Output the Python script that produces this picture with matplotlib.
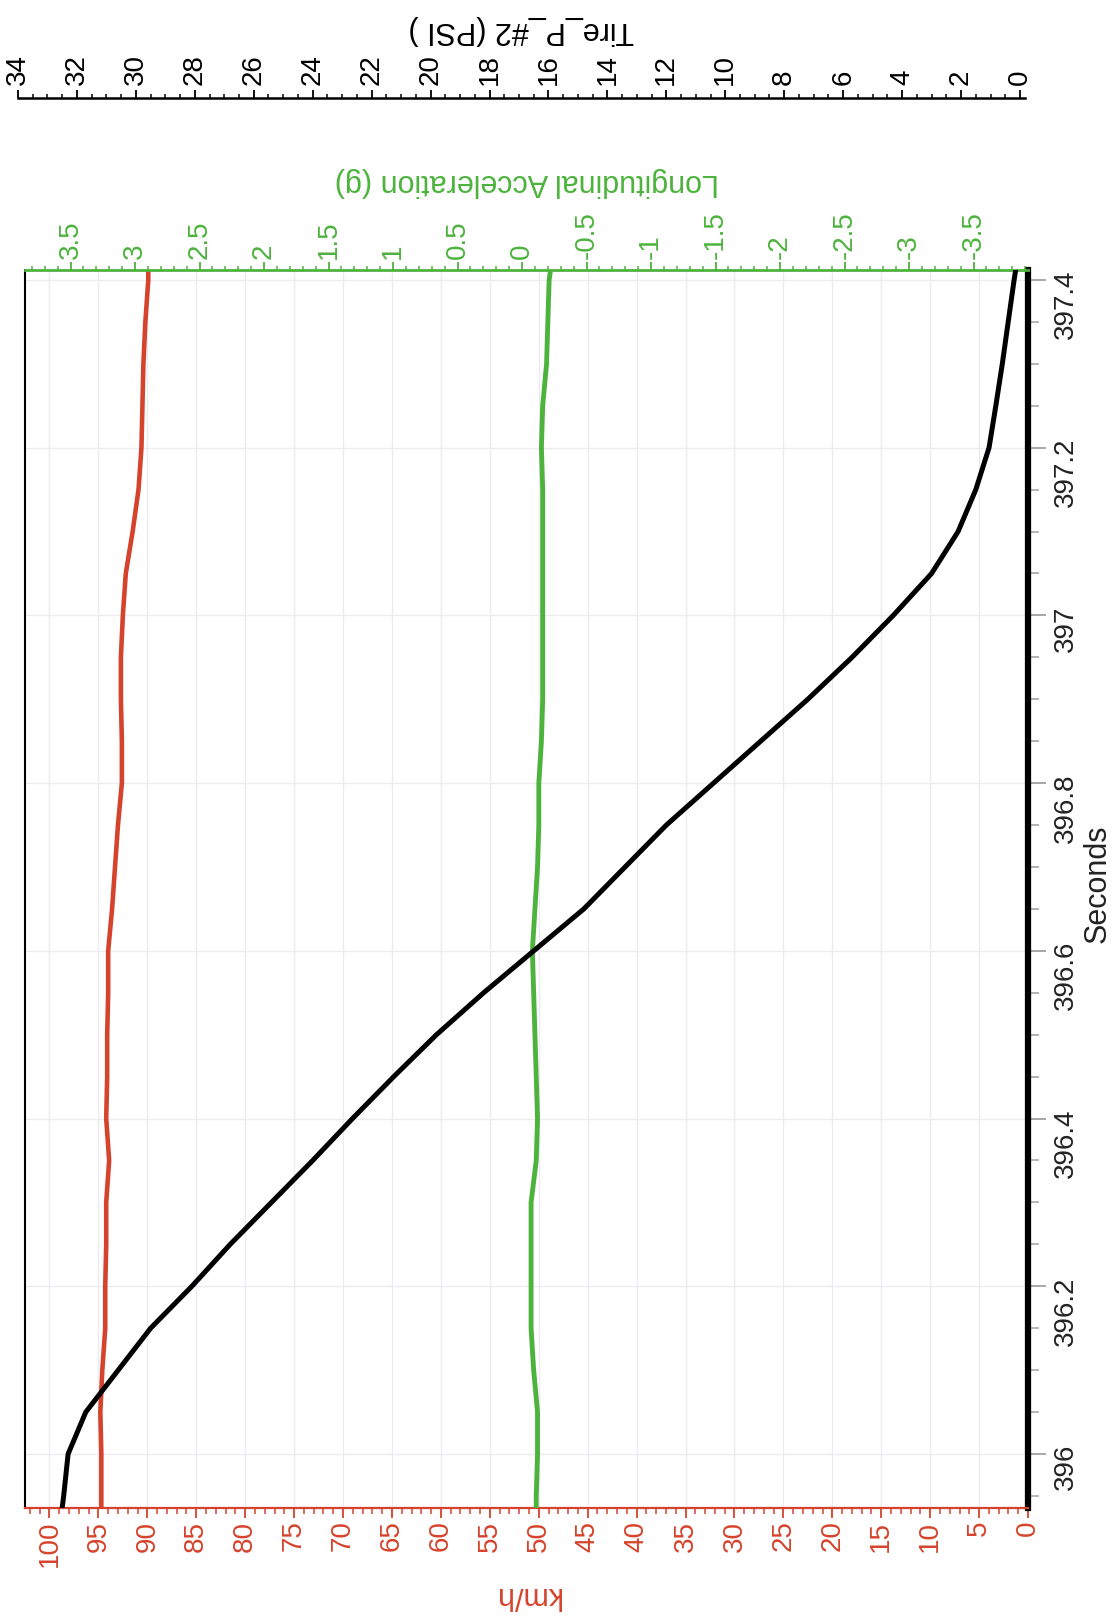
import matplotlib
matplotlib.use('Agg')
import matplotlib.pyplot as plt
from matplotlib.ticker import MultipleLocator

plt.rcParams['font.family'] = ['Liberation Sans', 'DejaVu Sans']
plt.rcParams['axes.unicode_minus'] = False

seconds = [395.936, 395.95, 396.00, 396.05, 396.10, 396.15, 396.20, 396.25,
           396.30, 396.35, 396.40, 396.45, 396.50, 396.55, 396.60, 396.65,
           396.70, 396.75, 396.80, 396.85, 396.90, 396.95, 397.00, 397.05,
           397.10, 397.15, 397.20, 397.25, 397.30, 397.35, 397.40, 397.411]
tire_psi = [32.5, 32.45, 32.3, 31.7, 30.6, 29.5, 28.1, 26.8,
            25.4, 24.0, 22.65, 21.25, 19.8, 18.2, 16.5, 14.8,
            13.4, 12.0, 10.4, 8.8, 7.2, 5.7, 4.3, 3.0,
            2.1, 1.5, 1.05, 0.82, 0.6, 0.4, 0.2, 0.15]
speed_kmh = [94.7, 94.7, 94.7, 94.8, 94.6, 94.3, 94.3, 94.2,
             94.2, 93.9, 94.2, 94.1, 94.1, 94.0, 94.0, 93.6,
             93.3, 93.0, 92.6, 92.6, 92.7, 92.7, 92.5, 92.2,
             91.5, 90.9, 90.6, 90.5, 90.4, 90.2, 89.9, 89.9]
accel_g = [-0.11, -0.11, -0.12, -0.12, -0.09, -0.07, -0.07, -0.07,
           -0.07, -0.11, -0.12, -0.11, -0.10, -0.09, -0.08, -0.10,
           -0.12, -0.13, -0.13, -0.15, -0.16, -0.16, -0.16, -0.16,
           -0.16, -0.16, -0.15, -0.16, -0.19, -0.20, -0.21, -0.22]

kmh_ticks = list(range(0, 101, 5))
accel_ticks = [3.5, 3, 2.5, 2, 1.5, 1, 0.5, 0, -0.5, -1, -1.5, -2, -2.5, -3, -3.5]
psi_ticks = list(range(0, 35, 2))
sec_ticks = [396, 396.2, 396.4, 396.6, 396.8, 397, 397.2, 397.4]
sec_labels = ['396', '396.2', '396.4', '396.6', '396.8', '397', '397.2', '397.4']

RED = '#d6432c'
GREEN = '#4db33d'
W, H = 1118, 1616
TICK_FS = 20
LABEL_FS = 22


def rect(x0, x1, y0, y1):
    # pixel box -> figure fractions
    return [x0 / W, 1 - y1 / H, (x1 - x0) / W, (y1 - y0) / H]


fig = plt.figure(figsize=(W / 100, H / 100), dpi=100)
ax = fig.add_axes(rect(25, 1028, 270, 1508))
ax2 = ax.twiny()
ax3 = fig.add_axes(rect(18, 1025, 270, 1508), sharey=ax)
ax3.patch.set_visible(False)

# speed (km/h) - bottom axis, seconds on the right
ax.plot(speed_kmh, seconds, color=RED, lw=3.3, zorder=3)
ax.set_xlim(102.5, 0)
ax.set_ylim(395.9356, 397.4119)
ax.set_axisbelow(True)
ax.grid(color='#ebebf1', lw=1)
ax.set_xticks(kmh_ticks)
ax.xaxis.set_minor_locator(MultipleLocator(1))
ax.tick_params(axis='x', which='both', colors=RED, labelsize=TICK_FS, labelrotation=90, pad=2)
ax.tick_params(axis='x', which='major', length=7, width=1.3)
ax.tick_params(axis='x', which='minor', length=4, width=1.1)
ax.yaxis.tick_right()
ax.yaxis.set_label_position('right')
ax.set_yticks(sec_ticks)
ax.set_yticklabels(sec_labels)
ax.yaxis.set_minor_locator(MultipleLocator(0.05))
ax.tick_params(axis='y', which='both', color='#a0a0a0', labelcolor='#222222',
               labelsize=TICK_FS, labelrotation=90, pad=5)
ax.tick_params(axis='y', which='major', length=13, width=1.3)
ax.tick_params(axis='y', which='minor', length=8, width=1.1)
ax.spines['left'].set_color('black')
ax.spines['left'].set_linewidth(1.5)
ax.spines['bottom'].set_color(RED)
ax.spines['bottom'].set_linewidth(1.6)
ax.spines['right'].set_color('black')
ax.spines['right'].set_linewidth(4.5)
ax.spines['top'].set_visible(False)
ax.set_xlabel('km/h', color=RED, fontsize=LABEL_FS, rotation=180)
ax.xaxis.set_label_coords(0.5, -0.0703)
ax.xaxis.label.set_va('center')
ax.set_ylabel('Seconds', fontsize=LABEL_FS, color='#222222', rotation=90)
ax.yaxis.set_label_coords(1.0695, 0.504)
ax.yaxis.label.set_va('center')

# longitudinal acceleration - green top axis
ax2.plot(accel_g, seconds, color=GREEN, lw=3.5, zorder=3)
ax2.set_xlim(3.853, -3.922)
ax2.set_xticks(accel_ticks)
ax2.set_xticklabels(['%g' % v for v in accel_ticks])
ax2.xaxis.set_minor_locator(MultipleLocator(0.1))
ax2.tick_params(axis='x', which='both', colors=GREEN, labelsize=TICK_FS, labelrotation=90, pad=2)
ax2.tick_params(axis='x', which='major', length=6, width=1.3)
ax2.tick_params(axis='x', which='minor', length=3, width=1.1)
for s in ['left', 'right', 'bottom']:
    ax2.spines[s].set_visible(False)
ax2.spines['top'].set_color(GREEN)
ax2.spines['top'].set_linewidth(2)
ax2.set_xlabel('Longitudinal Acceleration (g)', color=GREEN, fontsize=LABEL_FS, rotation=180)
ax2.xaxis.set_label_coords(0.5, 1.0711)
ax2.xaxis.label.set_va('center')

# tire pressure - black axis further up
ax3.plot(tire_psi, seconds, color='black', lw=3.6, zorder=4)
ax3.set_xlim(34, -0.17)
ax3.xaxis.tick_top()
ax3.xaxis.set_label_position('top')
ax3.yaxis.set_visible(False)
ax3.set_xticks(psi_ticks)
ax3.xaxis.set_minor_locator(MultipleLocator(0.5))
ax3.tick_params(axis='x', which='both', colors='black', labelsize=TICK_FS, labelrotation=90, pad=3)
ax3.tick_params(axis='x', which='major', length=6, width=1.3)
ax3.tick_params(axis='x', which='minor', length=3, width=1.1)
for s in ['left', 'right', 'bottom']:
    ax3.spines[s].set_visible(False)
ax3.spines['top'].set_position(('axes', 1.139))
ax3.spines['top'].set_linewidth(1.8)
ax3.set_xlabel('Tire_P_#2 (PSI )', fontsize=LABEL_FS, rotation=180)
ax3.xaxis.set_label_coords(0.5, 1.1939)
ax3.xaxis.label.set_va('center')

fig.savefig('out.png', dpi=100, facecolor='white')
